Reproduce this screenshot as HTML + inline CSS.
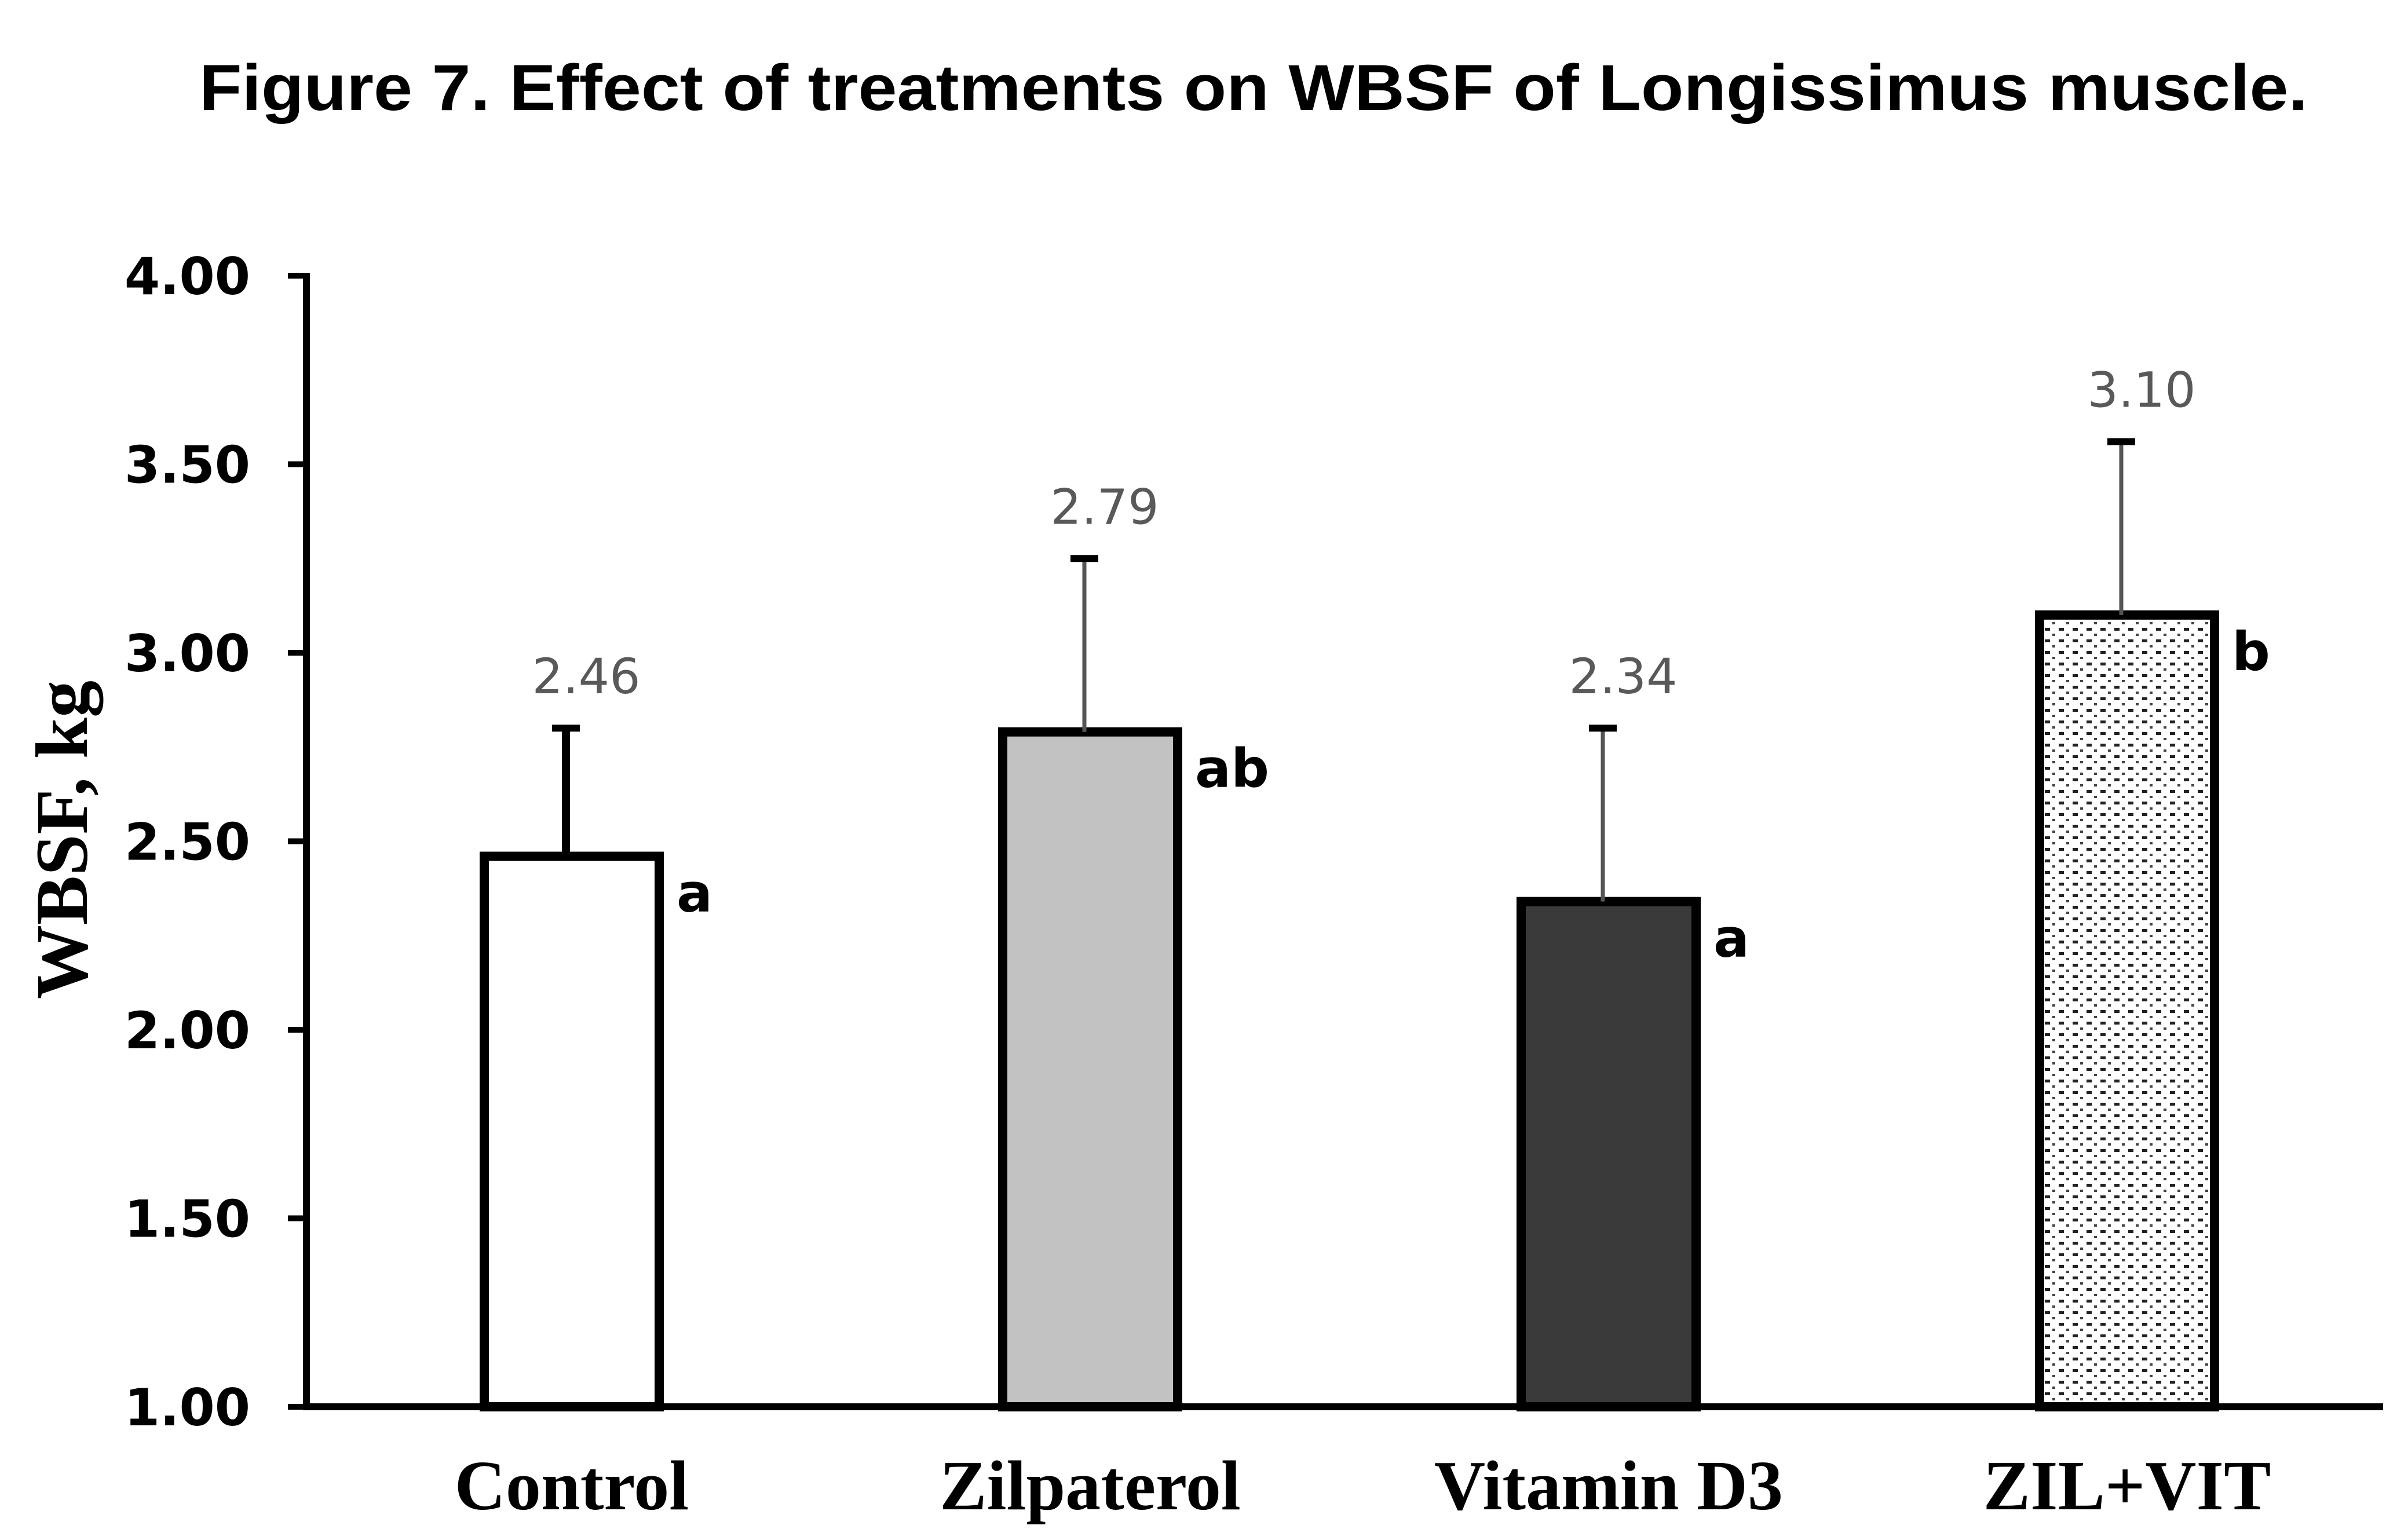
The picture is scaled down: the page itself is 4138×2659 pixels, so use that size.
<!DOCTYPE html>
<html><head><meta charset="utf-8"><style>html,body{margin:0;padding:0;background:#fff}svg{display:block}</style></head>
<body>
<svg id="chart" width="4138" height="2659" viewBox="0 0 4138 2659" xmlns="http://www.w3.org/2000/svg">
<defs>
<pattern id="dots" width="24" height="20" patternUnits="userSpaceOnUse">
<rect width="24" height="20" fill="#fff"/>
<rect x="2" y="4" width="9" height="5" fill="#222"/>
<rect x="15" y="14" width="5" height="4" fill="#444"/>
</pattern>
</defs>
<text x="2164" y="190" text-anchor="middle" font-family="Liberation Sans, sans-serif" font-weight="bold" font-size="112" textLength="3640" lengthAdjust="spacingAndGlyphs" fill="#000">Figure 7. Effect of treatments on WBSF of Longissimus muscle.</text>
<text transform="translate(150,1450) rotate(-90)" text-anchor="middle" font-family="Liberation Serif, serif" font-weight="bold" font-size="128" fill="#000">WBSF, kg</text>
<g id="plot"></g>
</svg>
<script>
const categories = ["Control", "Zilpaterol", "Vitamin  D3", "ZIL+VIT"];
const values = [2.46, 2.79, 2.34, 3.10];
const errors = [0.34, 0.46, 0.46, 0.46];
const letters = ["a", "ab", "a", "b"];
const valueLabels = ["2.46", "2.79", "2.34", "3.10"];
const yTicks = [1.00, 1.50, 2.00, 2.50, 3.00, 3.50, 4.00];

const NS = "http://www.w3.org/2000/svg";
const g = document.getElementById("plot");
const x0 = 529, x1 = 4114, yTop = 476, yBot = 2429, yMin = 1, yMax = 4;
const fills = ["#ffffff", "#c2c2c2", "#3a3a3a", "url(#dots)"];
function y(v){ return yBot - (v - yMin) / (yMax - yMin) * (yBot - yTop); }
function xc(i){ return 987 + i * 895; }
function mk(tag, attrs){ const e = document.createElementNS(NS, tag); for (const k in attrs) e.setAttribute(k, attrs[k]); g.appendChild(e); return e; }

yTicks.forEach(t => {
  const tk = mk("line", {x1: 497, x2: x0, y1: y(t), y2: y(t), stroke: "#000", "stroke-width": 10});
  
  
  const tl = mk("text", {x: 432, y: y(t) + 32, "text-anchor": "end", "font-family": "DejaVu Sans, sans-serif", "font-weight": "bold", "font-size": 88});
  tl.textContent = t.toFixed(2);
  
  
});

categories.forEach((c, i) => {
  const cx = xc(i), w = 302, top = y(values[i]);
  const bar = mk("rect", {x: cx - w/2, y: top, width: w, height: yBot - top, fill: fills[i], stroke: "#000", "stroke-width": 16});
  
  
  const et = y(values[i] + errors[i]);
  const el = mk("line", {x1: cx - 10, x2: cx - 10, y1: top, y2: et, stroke: i === 0 ? "#000" : "#555", "stroke-width": i === 0 ? 14 : 7});
  
  
  const cap = mk("line", {x1: cx - 34, x2: cx + 14, y1: et, y2: et, stroke: "#000", "stroke-width": 12});
  
  
  const vl = mk("text", {x: cx + 25, y: et - 60, "text-anchor": "middle", "font-family": "DejaVu Sans, sans-serif", "font-size": 84, fill: "#595959"});
  vl.textContent = valueLabels[i];
  
  
  const lt = mk("text", {x: cx + w/2 + 30, y: top + 95, "font-family": "DejaVu Sans, sans-serif", "font-weight": "bold", "font-size": 92});
  lt.textContent = letters[i];
  
  
  const cl = mk("text", {x: cx, y: 2606, "text-anchor": "middle", "font-family": "Liberation Serif, serif", "font-weight": "bold", "font-size": 122, "xml:space": "preserve"});
  cl.textContent = c;
  
  
});

const ya = mk("line", {x1: x0, x2: x0, y1: yTop - 5, y2: yBot + 5, stroke: "#000", "stroke-width": 12});


const xa = mk("line", {x1: x0 - 6, x2: x1, y1: yBot, y2: yBot, stroke: "#000", "stroke-width": 12});


</script>
</body></html>
